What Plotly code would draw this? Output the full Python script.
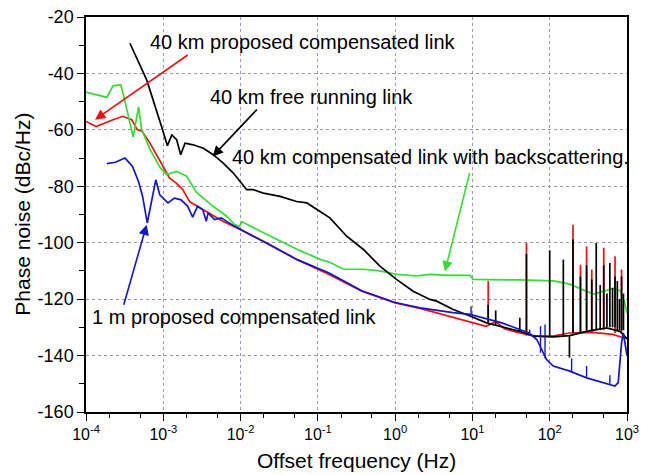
import plotly.graph_objects as go

# ---------------- data ----------------
green_f = [1e-4, 1.86e-4, 2.24e-4, 2.82e-4, 3.16e-4, 4.07e-4, 4.79e-4, 5.25e-4, 6.76e-4, 9.12e-4,
           1.10e-3, 1.48e-3, 2.0e-3, 2.69e-3, 4.37e-3, 6.61e-3, 8.3e-3, 9.6e-3, 1.05e-2, 1.95e-2,
           5.37e-2, 0.107, 0.145, 0.214, 0.389, 0.631, 1.05, 1.91, 2.82, 5.0, 9.33, 10.2,
           40.7, 112, 182, 363, 447, 661, 813, 933, 1000]
green_db = [-46.6, -48.5, -44.4, -44.0, -49.3, -62.5, -51.9, -59.9, -67.0, -73.4,
            -75.8, -74.7, -76.4, -82.2, -87.0, -90.6, -93.5, -94.3, -92.6, -96.4,
            -102.3, -105.9, -107.0, -109.4, -109.4, -110.0, -111.2, -111.8, -111.2, -111.6, -111.6, -113.0,
            -113.2, -113.5, -114.7, -118.2, -117.6, -116.2, -117.0, -121.2, -125.0]

red_f = [1e-4, 1.35e-4, 2.24e-4, 3.0e-4, 3.9e-4, 4.6e-4, 5.3e-4, 6.7e-4, 9.9e-4, 1.2e-3,
         1.46e-3, 1.78e-3, 2.2e-3, 3.0e-3, 4.0e-3, 5.9e-3, 1.0e-2, 2.2e-2, 5.4e-2, 0.14,
         0.37, 1.0, 2.1, 5.6, 15, 20, 26, 40.7, 68, 110, 180, 360, 650, 900, 1000]
red_db = [-57.0, -58.8, -56.4, -55.2, -56.4, -59.9, -60.5, -64.6, -72.9, -77.0,
          -78.8, -81.1, -85.5, -87.7, -89.5, -92.4, -95.4, -100.1, -106.0, -111.3,
          -117.2, -121.3, -123.3, -126.4, -129.6, -128.0, -130.5, -132.0, -133.1, -133.1, -132.0, -131.8, -132.5, -133.7, -134.0]

blue_f = [1.86e-4, 2.4e-4, 3.2e-4, 4.0e-4, 4.8e-4, 5.4e-4, 6.2e-4, 7.1e-4, 8.0e-4, 9.0e-4,
          1.15e-3, 1.39e-3, 1.7e-3, 2.07e-3, 2.4e-3, 2.78e-3, 3.24e-3, 3.6e-3, 3.8e-3, 4.6e-3,
          5.6e-3, 8.4e-3, 1.9e-2, 5.4e-2, 0.14, 0.37, 1.0, 2.1, 5.6, 9.3,
          24, 40.7, 54, 68, 91, 111, 182, 300, 490, 697, 770, 850, 897, 1000]
blue_db = [-72.0, -71.5, -70.0, -73.0, -78.5, -83.6, -93.0, -84.8, -77.7, -83.0,
           -85.9, -84.2, -84.8, -87.1, -90.9, -87.1, -88.3, -92.4, -89.4, -91.8,
           -91.2, -94.2, -99.5, -106.0, -110.7, -117.0, -121.2, -123.1, -124.8, -125.4,
           -128.4, -130.8, -132.0, -134.3, -141.4, -143.7, -145.5, -147.9, -149.6, -150.8, -149.6, -135.5, -132.0, -140.0]

black_f = [3.7e-4, 6.1e-4, 9.5e-4, 1.13e-3, 1.29e-3, 1.49e-3, 1.68e-3, 1.91e-3, 2.44e-3, 3.29e-3,
           4.43e-3, 5.97e-3, 8.05e-3, 9.8e-3, 1.2e-2, 1.46e-2, 1.97e-2, 3.24e-2, 5.3e-2, 7.2e-2,
           0.106, 0.143, 0.236, 0.389, 0.635, 1.05, 1.71, 2.82, 3.44, 5.65,
           9.3, 15.2, 40.7, 61, 111, 182, 300, 545, 810, 1000]
black_db = [-29.3, -42.3, -58.8, -65.6, -61.8, -63.5, -68.8, -64.7, -65.3, -66.5,
            -68.8, -71.8, -75.3, -78.3, -81.2, -81.2, -82.4, -83.6, -85.4, -85.9,
            -88.9, -91.2, -97.7, -102.4, -108.3, -113.1, -117.2, -120.1, -120.7, -123.7,
            -126.0, -128.4, -131.4, -133.1, -133.4, -132.9, -131.4, -130.2, -131.4, -134.0]

# spurs: frequency, foot, top
red_spur_f = [16, 50, 200, 250, 300, 350, 500, 700, 850]
red_spur_lo = [-128.5, -133, -132, -132, -132, -132, -131, -132, -132]
red_spur_hi = [-113.6, -100.1, -93.6, -107.8, -101.3, -109.5, -101.8, -104.8, -109.5]

black_spur_f = [16, 20, 41, 50, 100, 150, 180, 200, 250, 300, 350, 400, 450, 500, 550, 600, 650, 700, 750, 800, 850, 900]
black_spur_lo = [-128, -129, -131.4, -132, -133, -133, -133, -132, -132, -131, -131, -131, -131, -130, -130, -130, -130, -130, -131, -131, -131, -131]
black_spur_hi = [-122, -124, -126.6, -104, -102.7, -106, -140.7, -98.9, -112, -108, -113, -100.1, -115, -108, -118, -107.2, -116, -112, -113.6, -120, -112, -118]

blue_spur_f = [9.6, 55, 76, 87, 192, 300, 600]
blue_spur_lo = [-125.4, -133, -139, -141, -146, -148, -150]
blue_spur_hi = [-122.5, -130.8, -129.6, -129.0, -141.0, -143.7, -147.0]

x_tick_vals = [1e-4, 1e-3, 1e-2, 1e-1, 1e0, 1e1, 1e2, 1e3]
x_tick_text = ["10<sup>-4</sup>", "10<sup>-3</sup>", "10<sup>-2</sup>", "10<sup>-1</sup>",
               "10<sup>0</sup>", "10<sup>1</sup>", "10<sup>2</sup>", "10<sup>3</sup>"]
y_tick_vals = [-20, -40, -60, -80, -100, -120, -140, -160]
y_tick_text = ["-20", "-40", "-60", "-80", "-100", "-120", "-140", "-160"]

labels = ["40 km proposed compensated link", "40 km free running link",
          "40 km compensated link with backscattering.", "1 m proposed compensated link"]

# ---------------- figure ----------------
RED, GREEN, BLUE, BLACK = "#ee1111", "#33dd33", "#1515cc", "#000000"
FONT = "Arial, Liberation Sans, sans-serif"
LW = 1.7


def spur_xy(fs, lo, hi):
    xs, ys = [], []
    for f, a, b in zip(fs, lo, hi):
        xs += [f, f, None]
        ys += [a, b, None]
    return xs, ys


fig = go.Figure()
sx, sy = spur_xy(red_spur_f, red_spur_lo, red_spur_hi)
fig.add_trace(go.Scatter(x=sx, y=sy, mode="lines", line=dict(color=RED, width=LW), showlegend=False))
fig.add_trace(go.Scatter(x=red_f, y=red_db, mode="lines", line=dict(color=RED, width=LW), name=labels[0]))
fig.add_trace(go.Scatter(x=green_f, y=green_db, mode="lines", line=dict(color=GREEN, width=LW), name=labels[2]))
sx, sy = spur_xy(black_spur_f, black_spur_lo, black_spur_hi)
fig.add_trace(go.Scatter(x=sx, y=sy, mode="lines", line=dict(color=BLACK, width=LW), showlegend=False))
fig.add_trace(go.Scatter(x=black_f, y=black_db, mode="lines", line=dict(color=BLACK, width=LW), name=labels[1]))
fig.add_trace(go.Scatter(x=blue_f, y=blue_db, mode="lines", line=dict(color=BLUE, width=LW), name=labels[3]))
sx, sy = spur_xy(blue_spur_f, blue_spur_lo, blue_spur_hi)
fig.add_trace(go.Scatter(x=sx, y=sy, mode="lines", line=dict(color=BLUE, width=1.4), showlegend=False))

# text labels
text_pos = [(-1.186, -28.8), (-1.076, -48.3), (0.457, -69.5), (-2.09, -126.5)]
for t, (tx, ty) in zip(labels, text_pos):
    fig.add_annotation(x=tx, y=ty, text=t, showarrow=False, xanchor="center", yanchor="middle",
                       font=dict(family=FONT, size=20, color="black"))

# arrows: (tail x, tail y, tip x, tip y, colour)
arrows = [(-2.664, -33.1, -3.884, -56.4, RED),
          (-1.771, -52.3, -2.361, -69.4, BLACK),
          (0.968, -74.8, 0.644, -110.2, GREEN),
          (-3.517, -122.5, -3.215, -93.6, BLUE)]
for ax_, ay_, tx, ty, c in arrows:
    fig.add_annotation(x=tx, y=ty, ax=ax_, ay=ay_, axref="x", ayref="y", xref="x", yref="y",
                       text="", showarrow=True, arrowhead=2, arrowsize=1.3, arrowwidth=1.6,
                       arrowcolor=c)

# axis titles as paper annotations (fixed positions)
fig.add_annotation(x=0.5, y=-0.124, xref="paper", yref="paper", text="Offset frequency (Hz)",
                   showarrow=False, xanchor="center", yanchor="middle",
                   font=dict(family=FONT, size=21, color="black"))
fig.add_annotation(x=-0.118, y=0.5, xref="paper", yref="paper", text="Phase noise (dBc/Hz)",
                   showarrow=False, xanchor="center", yanchor="middle", textangle=-90,
                   font=dict(family=FONT, size=21, color="black"))

fig.update_xaxes(type="log", range=[-4, 3], tickvals=x_tick_vals, ticktext=x_tick_text,
                 automargin=False, ticklabeloverflow="allow",
                 showline=True, linecolor="black", linewidth=1.5, mirror=True,
                 ticks="outside", ticklen=7, tickwidth=1.3, tickcolor="black",
                 minor=dict(ticks="outside", ticklen=4, tickwidth=1.2, tickcolor="black", showgrid=False),
                 showgrid=True, gridcolor="#9999bb", griddash="dot", gridwidth=1,
                 zeroline=False,
                 tickfont=dict(family=FONT, size=16, color="black"))
fig.update_yaxes(range=[-160, -20], tickvals=y_tick_vals, ticktext=y_tick_text,
                 automargin=False, ticklabeloverflow="allow",
                 showline=True, linecolor="black", linewidth=1.5, mirror=True,
                 ticks="outside", ticklen=7, tickwidth=1.3, tickcolor="black",
                 minor=dict(ticks="outside", ticklen=5, tickwidth=1.2, tickcolor="black", dtick=10, showgrid=False),
                 showgrid=True, gridcolor="#999999", griddash="dot", gridwidth=1,
                 zeroline=False,
                 tickfont=dict(family=FONT, size=18, color="black"))

fig.update_layout(width=650, height=475, margin=dict(l=86, r=23, t=17, b=63),
                  plot_bgcolor="white", paper_bgcolor="white", showlegend=False)

# remove the default page margin so the 650x475 figure fills the window exactly
fig.write_html("out.html", config={"displayModeBar": False},
               post_script="document.body.style.margin='0';document.body.style.overflow='hidden';")
